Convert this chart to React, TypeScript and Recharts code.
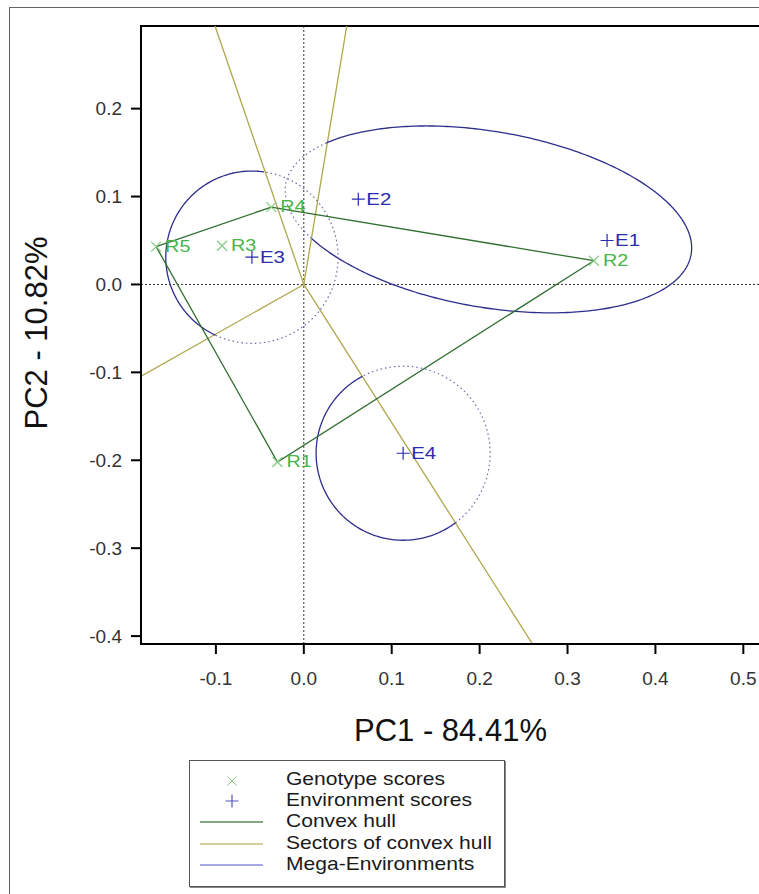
import { ScatterChart, Scatter, XAxis, YAxis, ReferenceLine, ReferenceArea, Legend } from 'recharts';

const FONT = '"Liberation Sans", Arial, Helvetica, sans-serif';

// genotype scores (PC1, PC2)
const GENOTYPES = ['R1', 'R2', 'R3', 'R4', 'R5'];
const GENOTYPE_PC1 = [-0.030, 0.330, -0.093, -0.037, -0.168];
const GENOTYPE_PC2 = [-0.202, 0.027, 0.044, 0.088, 0.043];

// environment scores (PC1, PC2)
const ENVIRONMENTS = ['E1', 'E2', 'E3', 'E4'];
const ENV_PC1 = [0.345, 0.062, -0.059, 0.113];
const ENV_PC2 = [0.050, 0.097, 0.031, -0.192];

// vertices of the convex hull, clockwise
const HULL = ['R5', 'R4', 'R2', 'R1'];

// mega-environment outlines: winning genotype, centre, semi-axes, tilt in degrees
const MEGA_WINNER = ['R2', 'R5', 'R1'];
const MEGA_CX = [0.21, -0.059, 0.113];
const MEGA_CY = [0.074, 0.031, -0.192];
const MEGA_RX = [0.234, 0.098, 0.099];
const MEGA_RY = [0.100, 0.098, 0.099];
const MEGA_TILT = [-9.8, 0, 0];

const X_TICKS = [-0.1, 0, 0.1, 0.2, 0.3, 0.4, 0.5];
const Y_TICKS = [-0.4, -0.3, -0.2, -0.1, 0, 0.1, 0.2];
const X_DOMAIN: [number, number] = [-0.1852, 0.5201];
const Y_DOMAIN: [number, number] = [-0.409, 0.294];

const LEGEND_LABELS = ['Genotype scores', 'Environment scores', 'Convex hull', 'Sectors of convex hull', 'Mega-Environments'];

const C_GENO_MARK = '#86cc86';
const C_GENO_TEXT = '#47b547';
const C_ENV = '#2b2bae';
const C_HULL = '#2f6e2f';
const C_SECTOR = '#b0a64c';
const C_MEGA = '#2e2e8e';
const C_MEGA_DOT = '#6a6ab0';

type Pt = { x: number; y: number; name?: string };

const genotypeData: Pt[] = GENOTYPES.map((name, i) => ({ name, x: GENOTYPE_PC1[i], y: GENOTYPE_PC2[i] }));
const envData: Pt[] = ENVIRONMENTS.map((name, i) => ({ name, x: ENV_PC1[i], y: ENV_PC2[i] }));

const hullPts = HULL.map((n) => genotypeData.find((d) => d.name === n)!);
const hullLine = [...hullPts, hullPts[0]];

// rays from the origin, perpendicular to each hull edge
const rays = hullPts.map((a, i) => {
  const b = hullPts[(i + 1) % hullPts.length];
  let nx = b.y - a.y;
  let ny = -(b.x - a.x);
  if (nx * a.x + ny * a.y < 0) {
    nx = -nx;
    ny = -ny;
  }
  const len = Math.hypot(nx, ny);
  return { x: nx / len, y: ny / len };
});

function inSector(p: Pt, winner: string) {
  const k = HULL.indexOf(winner);
  const prev = rays[(k - 1 + rays.length) % rays.length];
  const next = rays[k];
  const c1 = prev.x * p.y - prev.y * p.x;
  const c2 = p.x * next.y - p.y * next.x;
  return c1 <= 0 && c2 <= 0;
}

// split each outline into parts inside its sector (solid) and outside (dotted)
function megaRuns(i: number) {
  const N = 360;
  const th = (MEGA_TILT[i] * Math.PI) / 180;
  const pts: Pt[] = [];
  for (let k = 0; k < N; k++) {
    const t = (2 * Math.PI * k) / N;
    const ex = MEGA_RX[i] * Math.cos(t);
    const ey = MEGA_RY[i] * Math.sin(t);
    pts.push({ x: MEGA_CX[i] + ex * Math.cos(th) - ey * Math.sin(th), y: MEGA_CY[i] + ex * Math.sin(th) + ey * Math.cos(th) });
  }
  const inside = pts.map((p) => inSector(p, MEGA_WINNER[i]));
  const s = inside.findIndex((v, k) => v !== inside[(k - 1 + N) % N]);
  if (s < 0) return [{ solid: inside[0], pts: [...pts, pts[0]] }];
  const runs: { solid: boolean; pts: Pt[] }[] = [];
  let cur = { solid: inside[s], pts: [pts[s]] };
  for (let j = 1; j <= N; j++) {
    const k = (s + j) % N;
    cur.pts.push(pts[k]);
    if (j === N) break;
    if (inside[k] !== cur.solid) {
      runs.push(cur);
      cur = { solid: inside[k], pts: [pts[k]] };
    }
  }
  runs.push(cur);
  return runs;
}

const megaOutlines = MEGA_WINNER.flatMap((_, i) => megaRuns(i));

const NoShape = () => <g />;

const GenotypeMark = (props: any) => {
  const { cx, cy, payload } = props;
  return (
    <g>
      <path d={`M${cx - 5},${cy - 5}L${cx + 5},${cy + 5}M${cx - 5},${cy + 5}L${cx + 5},${cy - 5}`} stroke={C_GENO_MARK} strokeWidth={1.2} />
      <text transform={`translate(${cx + 9},${cy + 5}) scale(1.2,1)`} fill={C_GENO_TEXT} fontSize={16.5} fontFamily={FONT}>
        {payload.name}
      </text>
    </g>
  );
};

const EnvMark = (props: any) => {
  const { cx, cy, payload } = props;
  return (
    <g>
      <path d={`M${cx - 6.5},${cy}L${cx + 6.5},${cy}M${cx},${cy - 6.5}L${cx},${cy + 6.5}`} stroke={C_ENV} strokeWidth={1.2} />
      <text transform={`translate(${cx + 8},${cy + 6}) scale(1.2,1)`} fill={C_ENV} fontSize={17} fontFamily={FONT}>
        {payload.name}
      </text>
    </g>
  );
};

const LegendBox = () => (
  <div
    style={{
      width: 316,
      height: 127,
      boxSizing: 'border-box',
      border: '1px solid #555',
      boxShadow: '1px 1px 0 #888',
      background: '#fff',
    }}
  >
    <svg width={314} height={125} style={{ display: 'block' }}>
      <path d="M37.5,15.5L46.5,24.5M37.5,24.5L46.5,15.5" stroke={C_GENO_MARK} strokeWidth={1} />
      <path d="M35.5,40L48.5,40M42,33.5L42,46.5" stroke={C_ENV} strokeWidth={1.2} opacity={0.8} />
      <line x1={10} x2={73} y1={61} y2={61} stroke={C_HULL} strokeWidth={1.5} opacity={0.8} />
      <line x1={10} x2={73} y1={83} y2={83} stroke={C_SECTOR} strokeWidth={1.5} opacity={0.7} />
      <line x1={10} x2={73} y1={104} y2={104} stroke="#5a5ad0" strokeWidth={1.5} opacity={0.7} />
      {LEGEND_LABELS.map((label, i) => (
        <text
          key={label}
          transform={`translate(96,${24 + i * 21.2}) scale(1.19,1)`}
          fontSize={17.7}
          fontFamily={FONT}
          fill="#1a1a1a"
        >
          {label}
        </text>
      ))}
    </svg>
  </div>
);

export default function App() {
  const tickStyle = { fill: '#333', fontSize: 19, fontFamily: FONT };
  return (
    <div
      style={{
        position: 'fixed',
        left: 0,
        top: 0,
        width: 759,
        height: 894,
        overflow: 'hidden',
        background: '#fff',
        fontFamily: FONT,
      }}
    >
      <div
        style={{
          position: 'absolute',
          left: 9,
          top: 7,
          width: 820,
          height: 920,
          border: '1.5px solid #666',
        }}
      />
      <div style={{ position: 'absolute', left: 0, top: 0 }}>
        <ScatterChart width={761} height={894} margin={{ top: 26, right: 0, bottom: 190, left: 81 }}>
          <XAxis
            type="number"
            dataKey="x"
            domain={X_DOMAIN}
            ticks={X_TICKS}
            allowDataOverflow
            height={60}
            tickSize={10}
            tickMargin={18}
            tickFormatter={(v: number) => v.toFixed(1)}
            tick={tickStyle}
            axisLine={{ stroke: '#000', strokeWidth: 2 }}
            tickLine={{ stroke: '#000', strokeWidth: 2 }}
          />
          <YAxis
            type="number"
            dataKey="y"
            domain={Y_DOMAIN}
            ticks={Y_TICKS}
            allowDataOverflow
            width={60}
            tickSize={10}
            tickMargin={9}
            tickFormatter={(v: number) => v.toFixed(1)}
            tick={tickStyle}
            axisLine={{ stroke: '#000', strokeWidth: 2 }}
            tickLine={{ stroke: '#000', strokeWidth: 2 }}
          />
          <ReferenceLine x={0} stroke="#333" strokeWidth={1} strokeDasharray="2 2" />
          <ReferenceLine y={0} stroke="#333" strokeWidth={1} strokeDasharray="2 2" />
          {megaOutlines.map((run, i) => (
            <Scatter
              key={`mega-${i}`}
              data={run.pts}
              isAnimationActive={false}
              lineType="joint"
              line={
                run.solid
                  ? { stroke: C_MEGA, strokeWidth: 1.3 }
                  : { stroke: C_MEGA_DOT, strokeWidth: 1.2, strokeDasharray: '1.5 3' }
              }
              shape={NoShape}
            />
          ))}
          {rays.map((r, i) => (
            <ReferenceLine
              key={`ray-${i}`}
              segment={[
                { x: 0, y: 0 },
                { x: r.x * 2, y: r.y * 2 },
              ]}
              ifOverflow="hidden"
              stroke={C_SECTOR}
              strokeWidth={1.3}
            />
          ))}
          <Scatter
            data={hullLine}
            isAnimationActive={false}
            lineType="joint"
            line={{ stroke: C_HULL, strokeWidth: 1.3 }}
            shape={NoShape}
          />
          <Scatter data={genotypeData} isAnimationActive={false} shape={GenotypeMark} />
          <Scatter data={envData} isAnimationActive={false} shape={EnvMark} />
          <ReferenceArea
            x1={X_DOMAIN[0]}
            x2={X_DOMAIN[1]}
            y1={Y_DOMAIN[0]}
            y2={Y_DOMAIN[1]}
            fill="none"
            fillOpacity={0}
            stroke="#000"
            strokeWidth={2}
          />
          <Legend
            layout="vertical"
            align="center"
            verticalAlign="middle"
            wrapperStyle={{ left: 189, top: 760, width: 316, height: 127 }}
            content={() => <LegendBox />}
          />
        </ScatterChart>
      </div>
      <div
        style={{
          position: 'absolute',
          left: 450.5,
          top: 729.5,
          transform: 'translate(-50%, -50%)',
          fontSize: 31,
          color: '#111',
          whiteSpace: 'nowrap',
          lineHeight: 1,
        }}
      >
        PC1 - 84.41%
      </div>
      <div
        style={{
          position: 'absolute',
          left: 36,
          top: 333,
          transform: 'translate(-50%, -50%) rotate(-90deg)',
          fontSize: 31,
          color: '#111',
          whiteSpace: 'nowrap',
          lineHeight: 1,
        }}
      >
        PC2 - 10.82%
      </div>
    </div>
  );
}
